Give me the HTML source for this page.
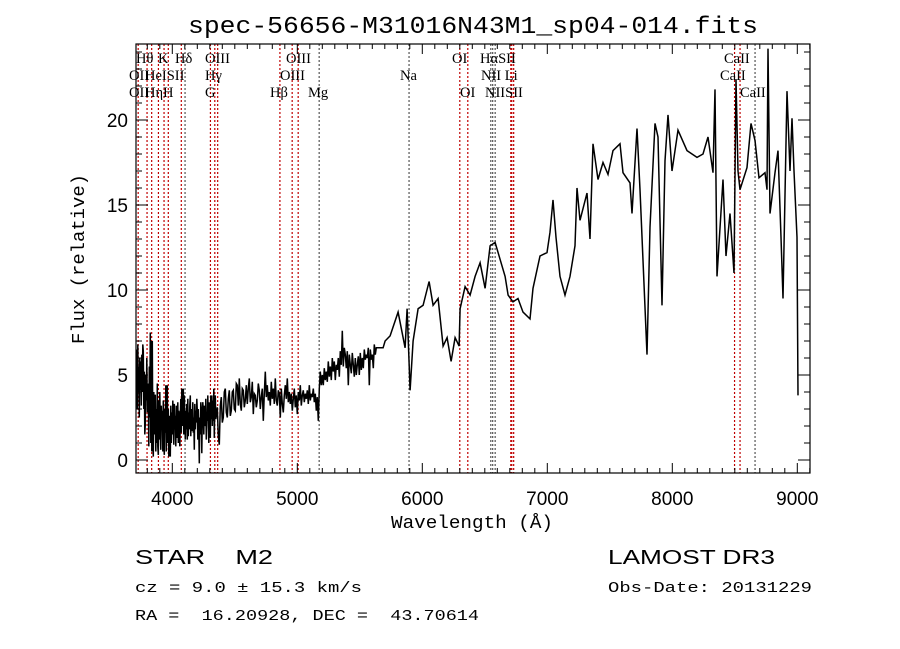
<!DOCTYPE html>
<html><head><meta charset="utf-8"><style>
html,body{margin:0;padding:0;background:#fff;}
svg{display:block;}
text{font-family:"Liberation Sans",sans-serif;fill:#000;white-space:pre;}
.ser{font-family:"Liberation Serif",serif;}
.mono{font-family:"Liberation Mono",monospace;}
</style></head><body>
<svg id="chart" width="900" height="649" viewBox="0 0 900 649" xmlns="http://www.w3.org/2000/svg" xml:space="preserve">
<rect width="900" height="649" fill="#fff"/>
<text class="mono" x="473" y="33" font-size="24" text-anchor="middle" textLength="570" lengthAdjust="spacingAndGlyphs">spec-56656-M31016N43M1_sp04-014.fits</text>
<g id="lines"></g>
<g id="labels"></g>
<path id="spec" fill="none" stroke="#000" stroke-width="1.5" stroke-linejoin="miter"/>
<rect x="136" y="44" width="674" height="429" fill="none" stroke="#000" stroke-width="1.2"/>
<g id="axes"></g>
<text class="mono" x="472" y="528" font-size="18" text-anchor="middle" textLength="162" lengthAdjust="spacingAndGlyphs">Wavelength (Å)</text>
<text class="mono" x="0" y="0" font-size="18" text-anchor="middle" transform="translate(84,259) rotate(-90)" textLength="170" lengthAdjust="spacingAndGlyphs">Flux (relative)</text>
<text x="135" y="564" font-size="20" textLength="138" lengthAdjust="spacingAndGlyphs">STAR    M2</text>
<text x="608" y="564" font-size="20" textLength="167" lengthAdjust="spacingAndGlyphs">LAMOST DR3</text>
<text class="mono" x="135" y="592" font-size="15" textLength="227" lengthAdjust="spacingAndGlyphs">cz = 9.0 ± 15.3 km/s</text>
<text class="mono" x="608" y="592" font-size="15" textLength="204" lengthAdjust="spacingAndGlyphs">Obs-Date: 20131229</text>
<text class="mono" x="135" y="620" font-size="15" textLength="344" lengthAdjust="spacingAndGlyphs">RA =  16.20928, DEC =  43.70614</text>
</svg>
<script>
const blueWaves=[
3712,3716,3720,3724,3728,3732,3736,3740,3744,3748,
3752,3756,3760,3764,3768,3772,3776,3780,3784,3788,
3792,3796,3800,3804,3808,3812,3816,3820,3824,3828,
3832,3836,3840,3844,3848,3852,3856,3860,3864,3868,
3872,3876,3880,3884,3888,3892,3896,3900,3904,3908,
3912,3916,3920,3924,3928,3932,3936,3940,3944,3948,
3952,3956,3960,3964,3968,3972,3976,3980,3984,3988,
3992,3996,4000,4004,4008,4012,4016,4020,4024,4028,
4032,4036,4040,4044,4048,4052,4056,4060,4064,4068,
4072,4076,4080,4084,4088,4092,4096,4100,4104,4108,
4112,4116,4120,4124,4128,4132,4136,4140,4144,4148,
4152,4156,4160,4164,4168,4172,4176,4180,4184,4188,
4192,4196,4200,4204,4208,4212,4216,4220,4224,4228,
4232,4236,4240,4244,4248,4252,4256,4260,4264,4268,
4272,4276,4280,4284,4288,4292,4296,4300,4304,4308,
4312,4316,4320,4324,4328,4332,4336,4340,4344,4348];
const blueFlux=[
5,6.5,3,6.8,4,5.5,2.5,6,4.1,5.8,
3.2,6.2,4,6.8,6.4,3,5.2,1.5,2.1,5,
3.5,6,2.8,4.5,3.7,0.8,5.5,2.5,7.5,1,
7,0.5,7,1.5,0.2,4,1.5,3.8,3.8,0.5,
3,1,4.5,0.8,0.3,3.5,1.2,4,2,0.6,
3.2,1.8,2.9,0.5,3.5,1.2,0.3,3,1.6,4.4,
0.5,3.5,4.4,1,3,0.2,2.6,1.4,0.2,3.2,
1,2.8,1.5,3.5,2.3,0.9,3.3,1.8,2.6,0.8,
3.2,1.5,1.3,3.4,1,2.9,2.5,0.8,2.5,3.6,
1.6,4.2,2,3.4,4.2,1.5,3.8,2.6,1.2,2.9,
1.8,3.3,1.2,3.6,1.4,2.8,1.8,3.2,3.8,1.4,
3,2.2,1.7,3.4,1.6,2.5,0.6,3.3,1.8,2.9,
2.2,3.6,2.9,1.2,3,1.8,-0.2,2.5,1.5,3.4,
2.9,0.4,2.6,3.4,2.9,1.5,3.2,2,2.1,3.6,
1.2,2.8,2.3,3.8,2.3,1,3.4,2.7,1.3,3.8,
2.4,3.8,2,3.5,2.3,4.2,1.3,3.3,3.8,2.4];
const greenWaves=[
4360,4368,4376,4384,4392,4400,4408,4416,4424,4432,
4440,4448,4456,4464,4472,4480,4488,4496,4504,4512,
4520,4528,4536,4544,4552,4560,4568,4576,4584,4592,
4600,4608,4616,4624,4632,4640,4648,4656,4664,4672,
4680,4688,4696,4704,4712,4720,4728,4736,4744,4752,
4760,4768,4776,4784,4792,4800,4808,4816,4824,4832,
4840,4848,4856,4864,4872,4880,4888,4896,4904,4912,
4920,4928,4936,4944,4952,4960,4968,4976,4984,4992,
5000,5008,5016,5024,5032,5040,5048,5056,5064,5072,
5080,5088,5096,5104,5112,5120,5128,5136,5144,5152,
5160,5168,5176,5184,5192,5200,5208,5216,5224,5232,
5240,5248,5256,5264,5272,5280,5288,5296,5304,5312,
5320,5328,5336,5344,5352,5360,5368,5376,5384,5392,
5400,5408,5416,5424,5432,5440,5448,5456,5464,5472,
5480,5488,5496,5504,5512,5520,5528,5536,5544,5552,
5560,5568,5576,5584,5592,5600,5608,5616,5624,5632];
const greenFlux=[
3.1,1.4,0.9,3.2,3.7,2.2,2.5,4,4.2,2.8,
2.5,3.6,4.1,2.6,2.9,4,4.1,3,2.9,4.5,
4.4,3.2,4.8,3.3,2.9,4.2,4.1,3.1,3.5,4.4,
3.3,4.2,4.8,3.4,3.7,4.6,2.7,3.9,3.8,3.1,
3.5,4.5,4.1,3,3.7,4.2,2.3,3.9,5.2,3.7,
4.4,3.5,4,3.2,4.6,3.6,4.2,3.3,4.8,3.5,
3.2,4.1,3.9,2.5,4.2,3.3,2.8,3.8,4.4,3.6,
4.8,3.4,4,3.3,3.9,2.9,3.6,4.2,3.1,3.8,
2.7,4,3.5,4.4,3.2,3.8,4.1,3.4,3.9,3.6,
4.1,3.3,4.4,3.5,3.9,3.7,4.2,3.4,3.9,2.9,
3.7,2.3,4.2,5.2,4.4,5,4.4,5.4,4.7,5.2,
4.6,5.8,4.9,5.5,4.7,6,5.2,5.8,4.7,5.6,
5.3,6,4.9,6.4,5.6,7.6,5.5,6.6,6.2,5.4,
6.4,4.4,6.2,5.6,5.1,6.3,5.6,4.9,6,5,
5.6,6.1,5,6.3,5.3,6,5.4,6.5,5.9,6.2,
6,6.6,4.4,6.5,5.9,6.2,5.4,6.8,6.2,6.6];
const redWaves=[5686,5702,5742,5806,5862,5878,5902,5926,5966,6006,6054,6086,6126,6166,6198,6230,6262,6294,6302,6342,6382,6422,6462,6502,6542,6582,6622,6662,6686,6726,6766,6806,6862,6886,6942,6998,7022,7046,7070,7102,7142,7182,7222,7238,7262,7318,7342,7366,7406,7446,7486,7526,7582,7606,7662,7678,7718,7742,7798,7822,7862,7886,7918,7942,7966,7998,8046,8118,8198,8246,8286,8326,8342,8358,8406,8430,8462,8494,8510,8526,8542,8598,8630,8662,8694,8742,8758,8766,8782,8822,8846,8870,8886,8918,8942,8958,8974,8998,9006];
const redFlux=[6.6,7,7.3,8.7,6.6,8.9,4.1,7,8.9,9.1,10.5,9.1,9.5,6.7,7.2,5.8,7.2,6.7,8.9,10.2,9.7,10.8,11.6,10.1,12.6,12.8,11.8,10.8,9.7,9.3,9.5,8.7,8.3,10.1,12,12.2,13.4,15.3,13.1,10.8,9.7,10.8,12.6,16,14.1,15.7,13,18.6,16.5,17.5,16.8,18.2,18.6,16.9,16.3,14.5,19.5,15.9,6.2,13.7,19.8,19,9.1,17.6,20.3,17,19.4,18.2,17.8,18,19,16.9,21.8,10.8,16.5,12,14.5,11,22.4,17,15.9,17.2,19.8,18.8,16.6,16.9,15.9,24.2,14.5,16.9,18.2,13.1,9.5,21.7,17,20.1,17,13.1,3.8];
const lineWaves=[3727,3798,3835,3889,3934,3968,4072,4102,4305,4340,4363,4861,4959,5007,5175,5894,6300,6364,6548,6563,6583,6708,6716,6731,8498,8542,8662];
const lineDark=[0,0,0,0,0,0,0,1,0,0,0,0,0,0,1,1,0,0,1,1,1,0,0,0,0,0,1];
const labelText=["Hθ","K","Hδ","OIII","OIII","OI","HαSII","OII","HeISII","Hγ","OIII","Na","NII Li","OII","Hη","H","G","Hβ","Mg","OI","NIISII","CaII","CaII","CaII"];
const labelX=[136,158,175,205,286,452,480,129,145,205,280,400,481,129,145,163,205,270,308,460,485,724,720,740];
const labelRow=[0,0,0,0,0,0,0,1,1,1,1,1,1,2,2,2,2,2,2,2,2,0,1,2];
const xTicks=[4000,5000,6000,7000,8000,9000];
const yTicks=[0,5,10,15,20];
const NS="http://www.w3.org/2000/svg";
const X0=136,X1=810,Y0=44,Y1=473;
function xs(w){return 172.3+(w-4000)*0.125;}
function ys(f){return 460-f*17;}
function mk(t,a,p){const e=document.createElementNS(NS,t);for(const k in a)e.setAttribute(k,a[k]);p.appendChild(e);return e;}
const lg=document.getElementById('lines');
lineWaves.forEach((w,i)=>{
  const l=mk('line',{x1:xs(w),x2:xs(w),y1:Y0,y2:Y1,stroke:lineDark[i]?'#555':'#c00000','stroke-width':1.2,'stroke-dasharray':'2 2'},lg);
  
  
});
const lb=document.getElementById('labels');
labelText.forEach((t,i)=>{
  const e=mk('text',{x:labelX[i],y:63+labelRow[i]*17,'font-size':14.5,class:'ser'},lb);
  e.textContent=t;
  
  
});
const waves=blueWaves.concat(greenWaves,redWaves);
const flux=blueFlux.concat(greenFlux,redFlux);
let d='';
const n=Math.min(waves.length,flux.length);
for(let i=0;i<n;i++){d+=(i?'L':'M')+xs(waves[i]).toFixed(1)+','+Math.max(Y0,Math.min(Y1,ys(flux[i]))).toFixed(1);}
document.getElementById('spec').setAttribute('d',d);
const ax=document.getElementById('axes');
for(let w=3800;w<=9100;w+=100){
  const x=xs(w);const maj=w%1000===0;const L=maj?10:5;
  mk('line',{x1:x,x2:x,y1:Y1,y2:Y1-L,stroke:'#000'},ax);
  mk('line',{x1:x,x2:x,y1:Y0,y2:Y0+L,stroke:'#000'},ax);
}
xTicks.forEach(w=>{
  const t=mk('text',{x:xs(w),y:505,'font-size':19,'text-anchor':'middle'},ax);
  t.textContent=w;
  
  
});
for(let f=0;f<=24;f++){
  const y=ys(f);const maj=f%5===0;const L=maj?12:6;
  mk('line',{x1:X0,x2:X0+L,y1:y,y2:y,stroke:'#000'},ax);
  mk('line',{x1:X1,x2:X1-L,y1:y,y2:y,stroke:'#000'},ax);
}
yTicks.forEach(f=>{
  const t=mk('text',{x:128,y:ys(f)+7,'font-size':19,'text-anchor':'end'},ax);
  t.textContent=f;
  
  
});
</script>
</body></html>
